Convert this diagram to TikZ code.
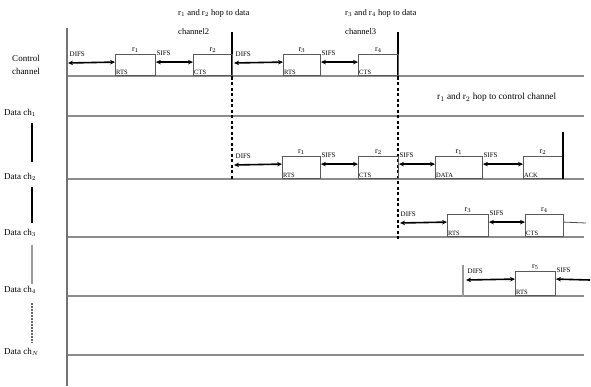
\documentclass[tikz,border=0pt]{standalone}
\usepackage{fontspec}
\setmainfont{Liberation Serif}
\usetikzlibrary{arrows.meta}
\begin{document}
\begin{tikzpicture}[x=1pt,y=-1pt,
  chline/.style={draw=black!45, line width=1.6pt},
  axisline/.style={draw=black!55, line width=1.2pt},
  hopbar/.style={draw=black, line width=2.6pt},
  hopdash/.style={draw=black, line width=1.3pt, dash pattern=on 3pt off 2.5pt},
  pkt/.style={draw=black!65, line width=0.9pt, minimum width=#1, inner sep=0pt, anchor=south west},
  dbl/.style={draw=black, line width=1.6pt, {Stealth[length=5pt,width=4.5pt]}-{Stealth[length=5pt,width=4.5pt]}},
  gap/.style={font=\fontsize{7}{8}\selectfont, inner sep=0.5pt, anchor=south west},
  inlbl/.style={font=\fontsize{6.5}{7}\selectfont, inner sep=1pt, anchor=south west},
  uplbl/.style={font=\fontsize{8}{9}\selectfont, inner sep=1pt, anchor=south},
  chlbl/.style={font=\fontsize{9}{10}\selectfont, inner sep=0pt},
  note/.style={font=\fontsize{8.6}{10}\selectfont, inner sep=0pt, anchor=base west},
  sepbar/.style={line width=1.8pt}
]
\useasboundingbox (0,0) rectangle (591,387);

% channel labels
\node[chlbl] (lc1) at (26,58) {Control};
\node[chlbl] (lc2) at (26,71) {channel};
\node[chlbl, anchor=west] (ld1) at (4,113) {Data ch$_1$};
\node[chlbl, anchor=west] (ld2) at (4,177) {Data ch$_2$};
\node[chlbl, anchor=west] (ld3) at (4,233) {Data ch$_3$};
\node[chlbl, anchor=west] (ld4) at (4,290) {Data ch$_4$};
\node[chlbl, anchor=west] (ldn) at (4,352) {Data ch$_{N}$};
\draw[sepbar, black] (32,123) -- (32,162);
\draw[sepbar, black] (32,187) -- (32,223);
\draw[line width=2.4pt, black!40] (32,245) -- (32,284);
\draw[sepbar, black!60, dash pattern=on 2pt off 1pt] (32,303) -- (32,343);

% channel lines
\draw[chline] (67,76) -- (584,76);
\draw[chline] (67,116) -- (584,116);
\draw[chline] (67,179) -- (584,179);
\draw[chline] (67,237) -- (584,237);
\draw[chline] (67,296) -- (584,296);
\draw[chline] (67,355) -- (584,355);
\draw[axisline] (67,28) -- (67,386);

% top notes
\node[note] (t1a) at (178,16) {r$_1$ and r$_2$ hop to data};
\node[note] (t1b) at (178,35) {channel2};
\node[note] (t2a) at (345,16) {r$_3$ and r$_4$ hop to data};
\node[note] (t2b) at (345,35) {channel3};
\node[note, font=\fontsize{9.3}{11}\selectfont] (t3) at (437,100) {r$_1$ and r$_2$ hop to control channel};

% hop bars
\coordinate (h1t) at (232,32);
\coordinate (h1m) at (232,77);
\coordinate (h1b) at (232,180);
\coordinate (h2t) at (398,32);
\coordinate (h2m) at (398,77);
\coordinate (h2b) at (398,240);
\draw[hopbar] (h1t) -- (h1m);
\draw[hopdash] (h1m) -- (h1b);
\draw[hopbar] (h2t) -- (h2m);
\draw[hopdash] (h2m) -- (h2b);

% ---------- control channel ----------
\node[pkt=40pt, minimum height=21pt] (c1) at (115,76) {};
\node[pkt=39pt, minimum height=21pt] (c2) at (193,76) {};
\node[pkt=37pt, minimum height=21pt] (c3) at (283,76) {};
\node[pkt=40pt, minimum height=21pt] (c4) at (358,76) {};
\coordinate (cs1) at (68,63);
\coordinate (cs3) at (234,63);
\draw[dbl] (cs1) -- ([yshift=-8pt]c1.north west);
\draw[dbl] ([yshift=-8pt]c1.north east) -- ([yshift=-8pt]c2.north west);
\draw[dbl] (cs3) -- ([yshift=-8pt]c3.north west);
\draw[dbl] ([yshift=-8pt]c3.north east) -- ([yshift=-8pt]c4.north west);
\node[gap] (cg1) at (69,57) {DIFS};
\node[gap] (cg2) at ([yshift=-2pt]c1.north east) {SIFS};
\node[gap] (cg3) at (235,57) {DIFS};
\node[gap] (cg4) at ([yshift=-2pt]c3.north east) {SIFS};
\node[inlbl] (ci1) at (c1.south west) {RTS};
\node[inlbl] (ci2) at (c2.south west) {CTS};
\node[inlbl] (ci3) at (c3.south west) {RTS};
\node[inlbl] (ci4) at (c4.south west) {CTS};
\node[uplbl] (cu1) at (c1.north) {r$_1$};
\node[uplbl] (cu2) at (c2.north) {r$_2$};
\node[uplbl] (cu3) at (c3.north) {r$_3$};
\node[uplbl] (cu4) at (c4.north) {r$_4$};

% ---------- data ch2 ----------
\node[pkt=38pt, minimum height=22pt] (d1) at (282,179) {};
\node[pkt=40pt, minimum height=22pt] (d2) at (358,179) {};
\node[pkt=47pt, minimum height=22pt] (d3) at (435,179) {};
\node[pkt=39pt, minimum height=22pt] (d4) at (523,179) {};
\coordinate (ds1) at (234,165);
\draw[dbl] (ds1) -- ([yshift=-8pt]d1.north west);
\draw[dbl] ([yshift=-8pt]d1.north east) -- ([yshift=-8pt]d2.north west);
\draw[dbl] ([yshift=-8pt]d2.north east) -- ([yshift=-8pt]d3.north west);
\draw[dbl] ([yshift=-8pt]d3.north east) -- ([yshift=-8pt]d4.north west);
\node[gap] (dg1) at (235,159) {DIFS};
\node[gap] (dg2) at ([yshift=-2pt]d1.north east) {SIFS};
\node[gap] (dg3) at ([yshift=-2pt]d2.north east) {SIFS};
\node[gap] (dg4) at ([yshift=-2pt]d3.north east) {SIFS};
\node[inlbl] (di1) at (d1.south west) {RTS};
\node[inlbl] (di2) at (d2.south west) {CTS};
\node[inlbl] (di3) at (d3.south west) {DATA};
\node[inlbl] (di4) at (d4.south west) {ACK};
\node[uplbl] (du1) at (d1.north) {r$_1$};
\node[uplbl] (du2) at (d2.north) {r$_2$};
\node[uplbl] (du3) at (d3.north) {r$_1$};
\node[uplbl] (du4) at (d4.north) {r$_2$};
\coordinate (e1t) at (563,132);
\coordinate (e1b) at (563,179);
\draw[hopbar] (e1t) -- (e1b);

% ---------- data ch3 ----------
\node[pkt=41pt, minimum height=22pt] (f1) at (447,237) {};
\node[pkt=38pt, minimum height=22pt] (f2) at (525,237) {};
\coordinate (fs1) at (400,223);
\coordinate (fe) at (586,223);
\draw[dbl] (fs1) -- ([yshift=-8pt]f1.north west);
\draw[dbl] ([yshift=-8pt]f1.north east) -- ([yshift=-8pt]f2.north west);
\draw[black!70, line width=0.8pt] ([yshift=-8pt]f2.north east) -- (fe);
\node[gap] (fg1) at (400,217) {DIFS};
\node[gap] (fg2) at ([yshift=-2pt]f1.north east) {SIFS};
\node[inlbl] (fi1) at (f1.south west) {RTS};
\node[inlbl] (fi2) at (f2.south west) {CTS};
\node[uplbl] (fu1) at (f1.north) {r$_3$};
\node[uplbl] (fu2) at (f2.north) {r$_4$};

% ---------- data ch4 ----------
\coordinate (g0t) at (463,265);
\coordinate (g0b) at (463,297);
\draw[black!40, line width=1.6pt] (g0t) -- (g0b);
\node[pkt=40pt, minimum height=24pt] (g1) at (515,296) {};
\coordinate (gs1) at (466,280);
\coordinate (ge) at (590,280);
\draw[dbl] (gs1) -- ([yshift=-8pt]g1.north west);
\draw[draw=black, line width=1.6pt, {Stealth[length=5pt,width=4.5pt]}-] ([yshift=-8pt]g1.north east) -- (ge);
\node[gap] (gg1) at (467,274) {DIFS};
\node[gap] (gg2) at ([yshift=-2pt]g1.north east) {SIFS};
\node[inlbl] (gi1) at (g1.south west) {RTS};
\node[uplbl] (gu1) at (g1.north) {r$_5$};
\end{tikzpicture}
\end{document}
